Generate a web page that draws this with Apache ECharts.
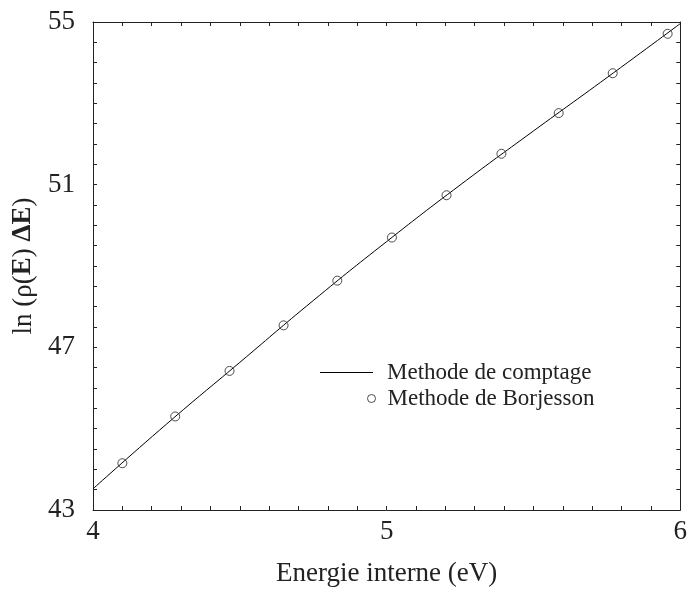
<!DOCTYPE html>
<html>
<head>
<meta charset="utf-8">
<script src="https://cdn.jsdelivr.net/npm/echarts@6/dist/echarts.min.js"></script>
<style>html,body{margin:0;padding:0;background:#fff;}#c{width:690px;height:592px;}</style>
</head>
<body>
<div id="c"></div>
<script>
// Counting method (line)
var countX = [4.0, 4.25, 4.5, 4.75, 5.0, 5.25, 5.5, 5.75, 6.0];
var countY = [43.52, 45.11, 46.63, 48.15, 49.60, 50.99, 52.32, 53.63, 54.96];
// Borjesson method (circles)
var borjX = [4.10, 4.28, 4.465, 4.649, 4.832, 5.018, 5.204, 5.391, 5.586, 5.770, 5.957];
var borjY = [44.15, 45.30, 46.42, 47.54, 48.64, 49.70, 50.74, 51.76, 52.76, 53.74, 54.71];
var xTicks = [4, 5, 6];
var yTicks = [43, 47, 51, 55];

var FONT = 'Liberation Serif';
var AX = '#222';
function pairs(xs, ys){ return xs.map(function(x,i){return [x, ys[i]];}); }

var chart = echarts.init(document.getElementById('c'));
var tickCommon = {show:true, inside:true, length:4, lineStyle:{color:AX, width:1}};
var minorCommon = {show:true, length:4, lineStyle:{color:AX, width:1}};
var circleStyle = {color:'rgba(255,255,255,0)', borderColor:'#222', borderWidth:1};
chart.setOption({
  animation:false,
  backgroundColor:'#fff',
  grid:{left:93, right:8, top:22, bottom:79, containLabel:false},
  legend:[{
    orient:'vertical', left:320, top:361, padding:0, itemWidth:53, itemHeight:1,
    data:[{name:'Methode de comptage', icon:'rect', itemStyle:{color:'#000', borderWidth:0}}],
    textStyle:{fontFamily:FONT, fontSize:23, color:'#222', padding:[0,0,0,9]}
  },{
    orient:'vertical', left:367, top:387, padding:0, itemWidth:8, itemHeight:8,
    data:[{name:'Methode de Borjesson', icon:'circle', itemStyle:circleStyle}],
    textStyle:{fontFamily:FONT, fontSize:23, color:'#222', padding:[0,0,0,7]}
  }],
  xAxis:[{
    type:'value', min:4, max:6, interval:1, position:'bottom',
    name:'Energie interne (eV)', nameLocation:'middle', nameGap:50,
    nameTextStyle:{fontFamily:FONT, fontSize:27, color:'#222'},
    axisLine:{show:true, onZero:false, lineStyle:{color:AX, width:1}},
    axisTick:tickCommon,
    minorTick:Object.assign({splitNumber:10}, minorCommon),
    axisLabel:{fontFamily:FONT, fontSize:27, color:'#222', margin:8,
      formatter:function(v){return xTicks.indexOf(v)>=0 ? String(v) : '';}},
    splitLine:{show:false}
  },{
    type:'value', min:4, max:6, interval:1, position:'top',
    axisLine:{show:true, onZero:false, lineStyle:{color:AX, width:1}},
    axisTick:tickCommon,
    minorTick:Object.assign({splitNumber:10}, minorCommon),
    axisLabel:{show:false}, splitLine:{show:false}
  }],
  yAxis:[{
    type:'value', min:43, max:55, interval:4, position:'left',
    name:'ln (ρ({b|E}) {b|ΔE})', nameLocation:'middle', nameGap:56,
    nameTextStyle:{fontFamily:FONT, fontSize:27, color:'#222',
      rich:{b:{fontFamily:FONT, fontSize:27, fontWeight:'bold', color:'#222'}}},
    axisLine:{show:true, onZero:false, lineStyle:{color:AX, width:1}},
    axisTick:tickCommon,
    minorTick:Object.assign({splitNumber:8}, minorCommon),
    axisLabel:{fontFamily:FONT, fontSize:27, color:'#222', margin:18,
      formatter:function(v){return yTicks.indexOf(v)>=0 ? String(v) : '';}},
    splitLine:{show:false}
  },{
    type:'value', min:43, max:55, interval:4, position:'right',
    axisLine:{show:true, onZero:false, lineStyle:{color:AX, width:1}},
    axisTick:tickCommon,
    minorTick:Object.assign({splitNumber:8}, minorCommon),
    axisLabel:{show:false}, splitLine:{show:false}
  }],
  series:[{
    name:'Methode de comptage', type:'line', smooth:true, symbol:'none',
    xAxisIndex:0, yAxisIndex:0,
    lineStyle:{color:'#000', width:1},
    itemStyle:{color:'#000'},
    data:pairs(countX, countY)
  },{
    name:'Methode de Borjesson', type:'scatter', symbol:'circle', symbolSize:9,
    xAxisIndex:0, yAxisIndex:0,
    itemStyle:circleStyle,
    data:pairs(borjX, borjY), z:3
  }]
});
</script>
</body>
</html>
